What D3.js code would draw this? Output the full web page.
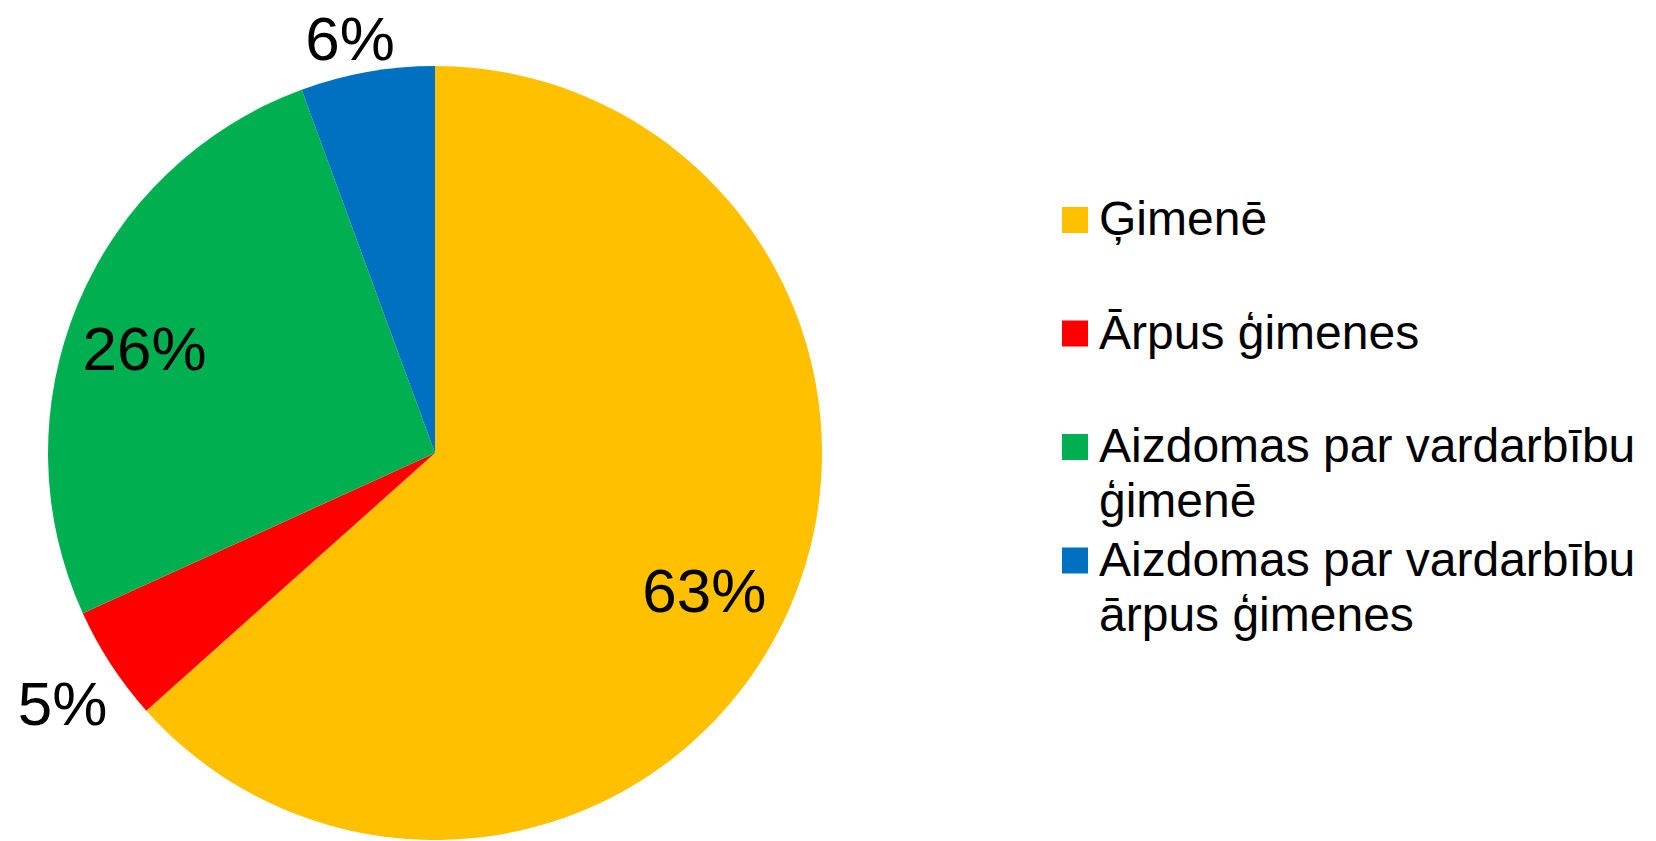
<!DOCTYPE html>
<html>
<head>
<meta charset="utf-8">
<script src="https://cdn.jsdelivr.net/npm/d3@7"></script>
<style>
  body { margin: 0; background: #fff; }
  svg text { font-family: "Liberation Sans", Arial, sans-serif; fill: #000; }
</style>
</head>
<body>
<div id="chart"></div>
<script>
// slice data, clockwise from 12 o'clock
var categories = ["Ģimenē", "Ārpus ģimenes", "Aizdomas par vardarbību ģimenē", "Aizdomas par vardarbību ārpus ģimenes"];
var legendLines = [["Ģimenē"], ["Ārpus ģimenes"], ["Aizdomas par vardarbību", "ģimenē"], ["Aizdomas par vardarbību", "ārpus ģimenes"]];
var shares = [63.4, 4.8, 26.2, 5.6];
var colors = ["#FFC000", "#FF0000", "#00B050", "#0070C0"];

var width = 1656, height = 841;
var cx = 435, cy = 453, radius = 387;

var svg = d3.select("#chart").append("svg")
    .attr("width", width)
    .attr("height", height);

var dataset = categories.map(function(c, i) {
    return { name: c, value: shares[i], color: colors[i], lines: legendLines[i] };
});

var pie = d3.pie()
    .sort(null)
    .value(function(d) { return d.value; });

var arc = d3.arc().innerRadius(0).outerRadius(radius);
var insideArc = d3.arc().innerRadius(305).outerRadius(305);
var outsideArc = d3.arc().innerRadius(434).outerRadius(434);

var g = svg.append("g")
    .attr("transform", "translate(" + cx + "," + cy + ")");

var arcs = pie(dataset);

g.selectAll("path.slice")
    .data(arcs)
    .enter().append("path")
    .attr("class", "slice")
    .attr("d", arc)
    .style("fill", function(d) { return d.data.color; });

// small slices get their label outside
g.selectAll("text.lbl")
    .data(arcs)
    .enter().append("text")
    .attr("class", "lbl")
    .attr("transform", function(d) {
        var a = d.data.value < 10 ? outsideArc : insideArc;
        return "translate(" + a.centroid(d) + ")";
    })
    .attr("text-anchor", "middle")
    .attr("dx", -9)
    .attr("dy", "0.56em")
    .style("font-size", "62px")
    .text(function(d) { return Math.round(d.data.value) + "%"; });

// legend
var legend = svg.append("g")
    .attr("transform", "translate(1062,235)");

var item = legend.selectAll("g.item")
    .data(dataset)
    .enter().append("g")
    .attr("class", "item")
    .attr("transform", function(d, i) { return "translate(0," + (i * 113.5) + ")"; });

item.append("rect")
    .attr("x", 0)
    .attr("y", -28)
    .attr("width", 26)
    .attr("height", 26)
    .style("fill", function(d) { return d.color; });

item.append("text")
    .attr("x", 37)
    .style("font-size", "48px")
    .selectAll("tspan")
    .data(function(d) { return d.lines; })
    .enter().append("tspan")
    .attr("x", 37)
    .attr("y", function(d, i) { return i * 55; })
    .text(function(d) { return d; });
</script>
</body>
</html>
